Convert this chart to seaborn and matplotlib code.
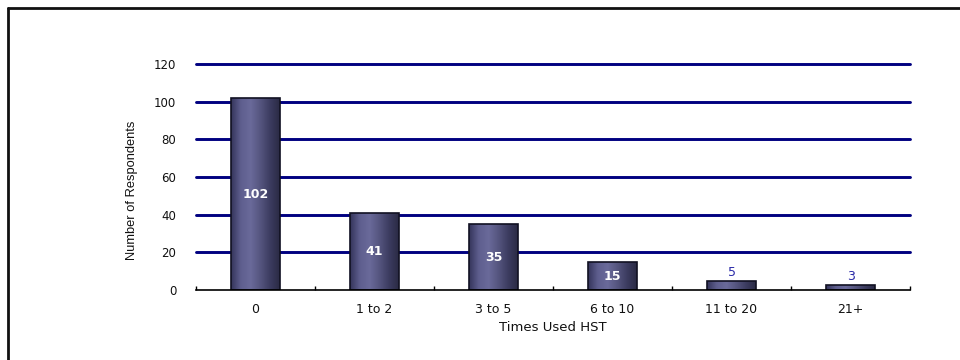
"""
Bar chart of how often respondents used HST, with white counts inside the bars.
"""
import numpy as np
import pandas as pd
import matplotlib.pyplot as plt
from matplotlib.colors import LinearSegmentedColormap
from matplotlib.lines import Line2D
import seaborn as sns

categories = ['0', '1 to 2', '3 to 5', '6 to 10', '11 to 20', '21+']
respondents = [102, 41, 35, 15, 5, 3]
y_ticks = [0, 20, 40, 60, 80, 100, 120]

df = pd.DataFrame({'TimesUsed': categories, 'Respondents': respondents})

sns.set_style('white')
plt.rcParams['font.family'] = ['DejaVu Sans']

fig = plt.figure(figsize=(9.6, 3.6), dpi=100)
ax = fig.add_axes([0.204, 0.194, 0.744, 0.628])

sns.barplot(data=df, x='TimesUsed', y='Respondents', order=categories,
            color='#45456f', width=0.41, edgecolor='#111122', linewidth=1.2,
            ax=ax, zorder=3)

# shaded fill for each bar, clipped to the bar shape
bar_cmap = LinearSegmentedColormap.from_list(
    'bar', ['#34345a', '#5e5e8e', '#6a6a9a', '#55557f', '#3c3c60', '#2a2a44'])
grad = np.linspace(0, 1, 256).reshape(1, -1)
for patch in ax.patches:
    x0, y0 = patch.get_x(), patch.get_y()
    w, h = patch.get_width(), patch.get_height()
    im = ax.imshow(grad, cmap=bar_cmap, aspect='auto', zorder=3.5,
                   extent=[x0, x0 + w, y0, y0 + h])
    im.set_clip_path(patch)
    patch.set_facecolor('none')
    patch.set_zorder(4)

# value labels: inside in white for tall bars, above in blue for short ones
for i, v in enumerate(respondents):
    if v >= 10:
        ax.text(i, v / 2, str(v), ha='center', va='center', color='white',
                fontsize=9, fontweight='semibold', zorder=5)
    else:
        ax.text(i, v + 1.0, str(v), ha='center', va='bottom', color='#2a2aa8',
                fontsize=9, zorder=5)

ax.set_ylim(0, 120)
ax.set_xlim(-0.5, len(categories) - 0.5)
ax.set_yticks(y_ticks)
ax.set_yticklabels([str(t) for t in y_ticks], fontsize=8.5, color='#111111')
for t in y_ticks[1:]:
    ax.axhline(t, color='#000080', lw=2.1, zorder=1, clip_on=False)

ax.set_xticks(range(len(categories)))
ax.set_xticklabels(categories, fontsize=9, color='#111111')
ax.tick_params(axis='x', which='major', length=0, pad=9)
ax.tick_params(axis='y', length=0, pad=14)
# small boundary ticks between categories, pointing up
ax.set_xticks(np.arange(-0.5, len(categories), 1), minor=True)
ax.tick_params(axis='x', which='minor', bottom=True, length=3, width=1,
               color='black', direction='in')

ax.set_xlabel('Times Used HST', fontsize=9.5, color='#111111')
ax.xaxis.set_label_coords(0.5, -0.137)
ax.set_ylabel('Number of Respondents', fontsize=9.3,
              family='Liberation Sans', color='#111111')
ax.yaxis.set_label_coords(-0.081, 0.442)

for side in ['top', 'right', 'left']:
    ax.spines[side].set_visible(False)
ax.spines['bottom'].set_color('black')
ax.spines['bottom'].set_linewidth(1.2)
ax.spines['bottom'].set_zorder(6)

# outer frame (left and top edges only visible)
fig.add_artist(Line2D([8 / 960, 8 / 960], [0, 1 - 8 / 360], color='#111111', lw=2))
fig.add_artist(Line2D([8 / 960, 1], [1 - 8 / 360, 1 - 8 / 360], color='#111111', lw=2))

fig.savefig('out.png', dpi=100)
